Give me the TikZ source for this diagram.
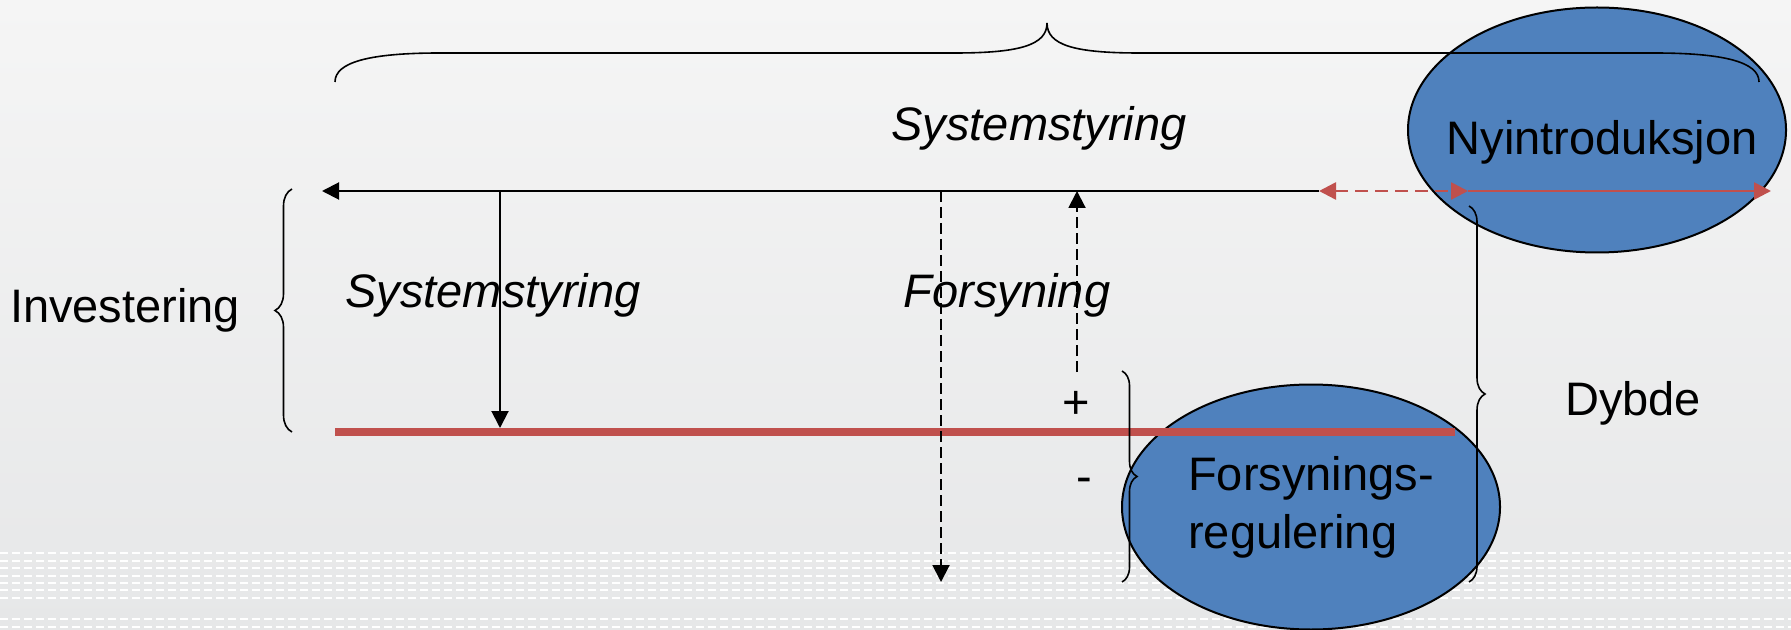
\documentclass[tikz,border=0pt]{standalone}
\usepackage{fontspec}
\setmainfont{Liberation Sans}
\usetikzlibrary{arrows.meta,shapes.geometric,decorations.pathreplacing}
\definecolor{bgtop}{HTML}{F5F5F5}
\definecolor{bgbot}{HTML}{E6E7E8}
\definecolor{oblue}{HTML}{4F81BD}
\definecolor{ored}{HTML}{C0504D}
\begin{document}
\begin{tikzpicture}[x=0.5pt,y=-0.5pt,
  blob/.style={ellipse,draw=black,line width=1pt,fill=oblue,minimum width=189pt,minimum height=122.5pt,inner sep=0pt},
  txt/.style={inner sep=0pt,font=\fontsize{23.5}{29}\selectfont},
  itx/.style={txt,font=\fontsize{23.5}{29}\selectfont\itshape},
  arr/.style={line width=1pt,-{Triangle[length=8.5pt,width=8.5pt]}},
  darr/.style={arr,dash pattern=on 5.5pt off 2.5pt},
  brc/.style={decorate,decoration={brace,amplitude=8pt},line width=0.8pt}]
\useasboundingbox (0,0) rectangle (1791,630);
% background
\shade[top color=bgtop,bottom color=bgbot] (0,0) rectangle (1791,630);
\foreach \y in {553,561,568,576,583,590,598,619,627}
  \draw[white,line width=0.8pt,dash pattern=on 4pt off 2pt] (0,\y) -- (1791,\y);
% ellipses
\node[blob] (ny) at (1597,130) {};
\node[blob,txt,align=left] (fr) at (1311,507) {Forsynings-\\regulering};
% texts
\node[txt,anchor=base] (nyTxt) at (1602,155) {Nyintroduksjon};
\node[txt,anchor=base] (inv) at (125,322) {Investering};
\node[txt,anchor=base] (dyb) at (1633,415) {Dybde};
\node[itx,anchor=base] (sysTop) at (1039,141) {Systemstyring};
\node[itx,anchor=base] (sysLeft) at (493,307) {Systemstyring};
\node[itx,anchor=base] (fors) at (1007,307) {Forsyning};
\node[txt,anchor=base] (plus) at (1076,418) {+};
\node[txt,anchor=base] (minus) at (1084,492) {-};
% points
\coordinate (lineL) at (322,191);
\coordinate (lineR) at (1319,191);
\coordinate (midR) at (1468,191);
\coordinate (nyR) at (1771,191);
\coordinate (redL) at (335,432);
\coordinate (redR) at (1455,432);
\coordinate (sysA) at (500,191);
\coordinate (sysB) at (500,428);
\coordinate (downA) at (941,191);
\coordinate (downB) at (941,582);
\coordinate (upA) at (1077,372);
\coordinate (upB) at (1077,191);
% lines and arrows
\draw[ored,line width=4pt] (redL) -- (redR);
\draw[arr] (lineR) -- (lineL);
\draw[arr] (sysA) -- (sysB);
\draw[darr] (downA) -- (downB);
\draw[darr] (upA) -- (upB);
\draw[ored,line width=1.3pt,dash pattern=on 6.5pt off 3.5pt,{Triangle[length=8.5pt,width=8.5pt]}-{Triangle[length=8.5pt,width=8.5pt]}] (lineR) -- (midR);
\draw[ored,line width=1.3pt,-{Triangle[length=8.5pt,width=8.5pt]}] (midR) -- (nyR);
% braces
\draw[line width=0.8pt] (335,82) .. controls (335,62) and (370,53) .. (440,53) -- (955,53)
  .. controls (1020,53) and (1047,45) .. (1047,23)
  .. controls (1047,45) and (1074,53) .. (1139,53) -- (1654,53)
  .. controls (1724,53) and (1759,62) .. (1759,82);
\draw[brc,decoration={amplitude=8.5pt}] (292,432) -- (292,189);
\draw[brc] (1469,206) -- (1469,582);
\draw[brc,decoration={amplitude=7.5pt}] (1122,371) -- (1122,582);
\end{tikzpicture}
\end{document}
